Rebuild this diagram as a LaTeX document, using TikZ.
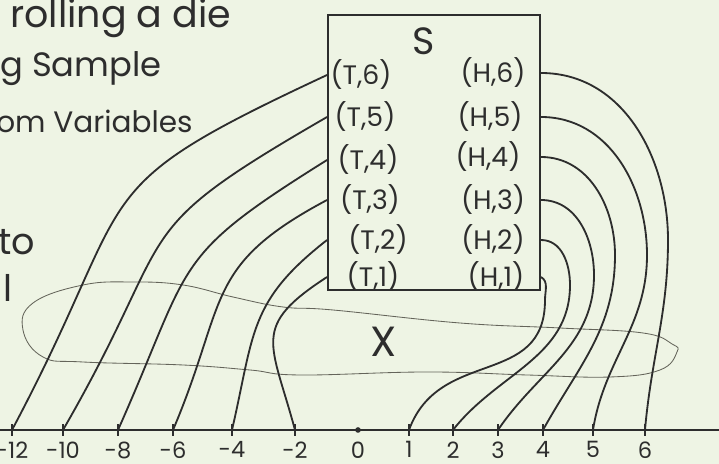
\documentclass[tikz,border=0pt]{standalone}
\usepackage{fontspec}
\setmainfont{Poppins}
\usepackage{tikz}
\usetikzlibrary{positioning}
\definecolor{ink}{RGB}{45,45,45}
\definecolor{paper}{RGB}{238,244,228}
\definecolor{faint}{RGB}{100,100,90}
\tikzset{outcome/.style = {inner sep = 0pt, font = \fontsize{19}{21}\selectfont, text = ink}}
\tikzset{note/.style = {inner sep = 0pt, anchor = base west, font = \fontsize{26}{28}\selectfont, text = ink}}
\tikzset{numlab/.style = {inner sep = 0pt, font = \fontsize{16}{18}\selectfont, text = ink}}
\tikzset{map/.style = {-, draw = ink, line width = 1.3pt}}
\tikzset{tickmark/.style = {draw = ink, line width = 1.1pt}}

\begin{document}
\begin{tikzpicture}[x = 0.025cm, y = 0.025cm]
	\fill[paper] (0,0) rectangle (719,464);
	\useasboundingbox (0,0) rectangle (719,464);

	% notes on the left
	\node[note, font = \fontsize{27}{29}\selectfont] (rolling) at (10,436) {rolling a die};
	\node[note, font = \fontsize{24}{26}\selectfont] (sample) at (0,387) {g Sample};
	\node[note, font = \fontsize{21}{23}\selectfont] (variables) at (-4,331) {om Variables};
	\node[note] (to) at (-2,209) {to};
	\node[note] (ell) at (3,162) {l};

	% sample space S
	\node[draw = ink, line width = 1.3pt, minimum width = 5.3cm, minimum height = 6.875cm] (sbox) at (434,311.5) {};
	\node[outcome, font = \fontsize{27}{29}\selectfont] (s) at (424,423) {S};

	\node[outcome] (t6) at (361,389) {(T,6)};
	\node[outcome] (t5) at (365,347) {(T,5)};
	\node[outcome] (t4) at (368,304) {(T,4)};
	\node[outcome] (t3) at (370,264) {(T,3)};
	\node[outcome] (t2) at (378,224) {(T,2)};
	\node[outcome] (t1) at (373,187) {(T,1)};

	\node[outcome] (h6) at (493,391) {(H,6)};
	\node[outcome] (h5) at (490,347) {(H,5)};
	\node[outcome] (h4) at (488,307) {(H,4)};
	\node[outcome] (h3) at (493,264) {(H,3)};
	\node[outcome] (h2) at (493,224) {(H,2)};
	\node[outcome] (h1) at (496,187) {(H,1)};

	% real line
	\coordinate (lend) at (0,34);
	\coordinate (rend) at (719,34);
	\draw[tickmark] (lend) -- (rend);

	\coordinate (m12) at (12,34);
	\coordinate (m10) at (63,34);
	\coordinate (m8) at (118,34);
	\coordinate (m6) at (173,34);
	\coordinate (m4) at (232,34);
	\coordinate (m2) at (295,34);
	\coordinate (z0) at (358,34);
	\coordinate (p1) at (409,34);
	\coordinate (p2) at (453,34);
	\coordinate (p3) at (498,34);
	\coordinate (p4) at (543,34);
	\coordinate (p5) at (593,34);
	\coordinate (p6) at (645,34);

	\foreach \t in {m12, m10, m8, m6, m4, m2, p1, p2, p3, p4, p5, p6}
		\draw[tickmark] ([yshift = -4pt]\t) -- ([yshift = 4pt]\t);
	\fill[ink] (z0) circle (2pt);

	\node[numlab, below = 8pt of m12] (l12) {-12};
	\node[numlab, below = 8pt of m10] (l10) {-10};
	\node[numlab, below = 8pt of m8] (l8) {-8};
	\node[numlab, below = 8pt of m6] (l6) {-6};
	\node[numlab, below = 8pt of m4] (l4) {-4};
	\node[numlab, below = 8pt of m2] (l2) {-2};
	\node[numlab, below = 8pt of z0] (n0) {0};
	\node[numlab, below = 8pt of p1] (n1) {1};
	\node[numlab, below = 8pt of p2] (n2) {2};
	\node[numlab, below = 8pt of p3] (n3) {3};
	\node[numlab, below = 8pt of p4] (n4) {4};
	\node[numlab, below = 8pt of p5] (n5) {5};
	\node[numlab, below = 8pt of p6] (n6) {6};

	% the map X
	\draw[faint, line width = 0.6pt] plot[smooth cycle, tension = 0.7] coordinates {(23,134) (33,161) (83,179) (133,182) (183,179) (233,167) (283,157) (333,154) (460,141) (560,136) (643,131) (672,120) (677,112) (660,94) (610,87) (527,89) (427,92) (300,89) (250,94) (183,99) (83,102) (43,107)};
	\node[outcome, font = \fontsize{30}{32}\selectfont] (x) at (384,122) {X};

	\draw[map] (t6.west -| sbox.west) to[out = 205, in = 62, looseness = 1.5] (m12);
	\draw[map] (t5.west -| sbox.west) to[out = 210, in = 60, looseness = 1.5] (m10);
	\draw[map] (t4.west -| sbox.west) to[out = 212, in = 66, looseness = 1.4] (m8);
	\draw[map] (t3.west -| sbox.west) to[out = 208, in = 67, looseness = 1.3] (m6);
	\draw[map] (t2.west -| sbox.west) to[out = 218, in = 77, looseness = 1.2] (m4);
	\draw[map] (t1.west -| sbox.west) to[out = 213, in = 105, looseness = 1.5] (m2);

	\draw[map] (h6.east -| sbox.east) to[out = 0, in = 90] (668,224) to[out = -90, in = 85] (p6);
	\draw[map] (h5.east -| sbox.east) to[out = 0, in = 90] (647,209) to[out = -90, in = 81] (p5);
	\draw[map] (h4.east -| sbox.east) to[out = 0, in = 90] (615,209) to[out = -90, in = 61] (p4);
	\draw[map] (h3.east -| sbox.east) to[out = 0, in = 90] (594,189) to[out = -90, in = 56] (p3);
	\draw[map] (h2.east -| sbox.east) to[out = 0, in = 90] (570,179) to[out = -90, in = 52] (p2);
	\draw[map] (h1.east -| sbox.east) to[out = -30, in = 90] (545,164) to[out = -90, in = 70, looseness = 1.2] (p1);
\end{tikzpicture}
\end{document}
